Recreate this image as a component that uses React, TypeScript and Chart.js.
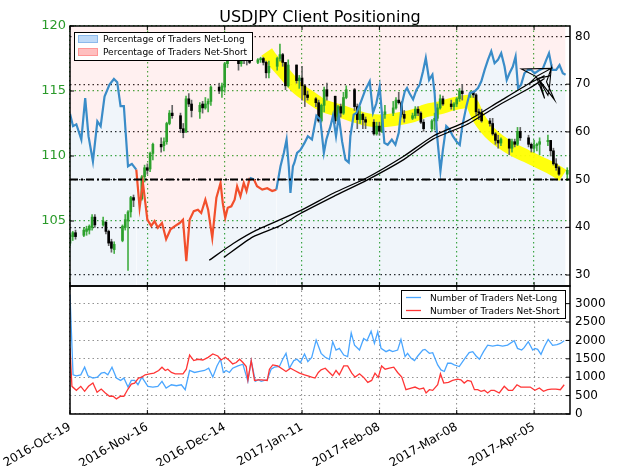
import React, { useEffect, useRef } from "react";
import { Chart, registerables } from "chart.js";

Chart.register(...registerables);

const FONT = "'DejaVu Sans', 'Liberation Sans', sans-serif";
const TITLE = "USDJPY Client Positioning";
const X_MAX = 181;

const tickDays = [0, 28, 56, 84, 112, 140, 168];
const tickLabels = ["2016-Oct-19", "2016-Nov-16", "2016-Dec-14", "2017-Jan-11", "2017-Feb-08", "2017-Mar-08", "2017-Apr-05"];
const priceTicks = [105, 110, 115, 120];
const pctTicks = [30, 40, 50, 60, 70, 80];
const countTicks = [0, 500, 1000, 1500, 2000, 2500, 3000];

const candleDays = [0,1,2,5,6,7,8,9,12,13,14,15,16,19,20,21,22,23,26,27,28,29,30,33,34,35,36,37,40,41,42,43,44,47,48,49,50,51,54,55,56,57,58,61,62,63,64,65,68,69,70,71,72,75,76,77,78,79,82,83,84,85,86,89,90,91,92,93,96,97,98,99,100,103,104,105,106,107,110,111,112,113,114,117,118,119,120,121,124,125,126,127,128,131,132,133,134,135,138,139,140,141,142,145,146,147,148,149,152,153,154,155,156,159,160,161,162,163,166,167,168,169,170,173,174,175,176,177,180];
const candleOpen = [103.3,103.8,104.1, 103.9,104.2,104.3,104.5,105.3, 104.7,104.9,104.2,103.4,102.8, 103.5,104.5,105.0,105.7,106.8, 106.7,108.4,109.1,109.0,110.2, 110.9,110.8,111.1,112.5,113.3, 113.1,112.1,111.9,114.4,114.0, 113.4,114.0,113.7,114.0,114.2, 115.3,115.0,115.3,117.1,118.1, 117.9,117.1,117.9,117.6,117.4, 117.2,117.4,117.5,117.2,116.4, 116.9,117.5,117.8,117.2,115.4, 117.0,115.8,116.0,115.4,114.7, 114.4,114.1,112.7,113.9,115.1, 114.6,112.7,113.8,113.3,114.5, 115.1,113.8,112.8,113.2,112.8, 112.6,111.7,112.3,111.9,113.2, 113.3,113.7,114.3,114.1,113.2, 112.9,113.1,113.6,113.3,112.6, 112.1,112.7,112.9,113.7,114.4, 114.0,113.8,114.0,114.4,115.0, 114.8,114.9,114.7,113.4,113.3, 112.7,112.5,111.7,111.2,111.0, 111.3,110.6,111.1,110.9,111.9, 111.4,110.9,110.6,110.8,110.9, 111.1,111.2,110.4,109.4,109.1, 108.6];
const candleHigh = [104.0,104.2,104.3, 104.5,104.6,104.7,105.5,105.5, 105.3,105.0,104.3,103.6,103.4, 104.7,105.5,105.8,106.9,107.0, 108.5,109.3,109.4,110.3,111.0, 111.4,111.4,112.6,113.5,113.9, 113.3,112.5,114.6,114.8,114.3, 114.1,114.2,114.5,114.4,115.4, 115.6,115.6,117.2,118.7,118.5, 118.0,118.0,118.0,117.8,117.6, 117.5,117.6,117.6,117.3,117.3, 117.6,118.6,117.9,117.2,117.4, 117.0,116.2,116.9,115.5,115.0, 114.5,114.3,114.0,115.3,115.6, 114.6,113.9,114.0,114.9,115.4, 115.2,114.0,113.8,113.3,113.0, 112.8,112.6,112.6,113.3,113.9, 114.2,114.5,114.9,114.2,113.5, 113.3,113.8,113.8,113.4,112.8, 112.8,113.3,114.0,114.7,114.6, 114.3,114.1,114.5,115.2,115.5, 115.0,115.0,114.8,113.6,113.6, 112.9,112.9,111.8,111.6,111.4, 111.3,111.3,111.3,112.2,112.2, 111.6,111.0,111.2,111.0,111.4, 111.6,111.2,110.6,109.8,109.2, 109.1];
const candleLow = [103.1,103.5,103.6, 103.8,103.9,104.0,104.3,104.5, 104.6,104.0,103.1,102.6,102.5, 103.4,104.3,101.2,105.3,106.1, 106.6,108.0,108.6,108.8,109.7, 110.3,110.4,110.9,112.4,112.9, 111.8,111.4,111.8,113.8,113.0, 112.9,113.3,113.6,113.4,113.9, 114.8,114.5,114.9,116.8,117.5, 116.6,116.9,117.1,117.0,117.1, 117.1,117.2,117.0,116.0,116.0, 116.6,117.3,116.9,115.1,115.3, 115.6,115.2,114.3,113.8,114.3, 113.8,112.6,112.6,113.4,114.3, 112.5,112.6,113.0,113.2,114.4, 113.5,112.1,112.5,112.1,112.1, 111.6,111.6,111.6,111.8,112.9, 113.1,113.6,114.0,113.0,112.6, 112.8,112.9,113.1,112.5,111.9, 111.9,112.0,112.7,113.6,113.9, 113.6,113.5,113.8,114.2,114.3, 114.5,114.5,113.2,112.8,112.6, 112.3,111.6,110.9,110.6,110.8, 110.1,110.3,110.7,110.8,111.2, 110.7,110.3,110.3,110.4,110.1, 110.8,110.0,109.3,108.9,108.5, 108.1];
const candleClose = [103.9,104.1,103.8, 104.3,104.4,104.6,105.3,104.7, 105.0,104.2,103.3,102.9,103.2, 104.6,105.1,105.7,106.8,106.6, 108.4,109.1,108.9,110.2,110.9, 110.7,111.1,112.5,113.3,113.1, 112.1,111.8,114.4,114.0,113.5, 113.9,113.7,114.0,114.2,115.3, 115.0,115.4,117.1,118.1,117.9, 117.1,117.9,117.6,117.4,117.2, 117.4,117.5,117.2,116.4,116.9, 117.5,117.8,117.2,115.4,117.0, 115.8,116.0,115.4,114.7,114.5, 114.1,112.7,113.9,115.1,114.6, 112.7,113.8,113.3,114.5,115.1, 113.8,112.8,113.2,112.8,112.6, 111.7,112.3,111.9,113.2,113.4, 113.7,114.3,114.1,113.2,112.9, 113.1,113.6,113.3,112.6,112.1, 112.7,112.9,113.7,114.4,114.0, 113.8,114.0,114.4,115.0,114.8, 114.9,114.7,113.4,113.3,112.7, 112.5,111.7,111.2,111.0,111.3, 110.6,111.1,110.9,111.9,111.4, 110.9,110.6,110.8,110.9,111.1, 111.2,110.4,109.4,109.1,108.6, 108.9];

const pctDays = [0,1.1,2.3,4.1,5.5,6.7,8.3,9.9,11.1,12.5,14.3,15.9,17.1,18.3,19.5,21,22.4,24,25.2,26.4,28,29.4,30.6,31.8,33.3,34.8,36.4,38.1,39.7,40.9,42.1,43.3,44.8,46.3,47.5,49,50,51.5,53,54.5,55.3,56.2,57.1,58.4,59.6,60.5,61.7,62.9,63.9,65.1,66.6,67.7,69.6,71.4,73.2,74.7,76.2,77.4,78.4,79.2,79.8,80.7,81.2,82.2,83.4,84.9,86.1,87.6,89.2,90.6,91.9,92.8,94.3,95.2,96.3,97.3,98.5,99.7,100.9,101.5,102.7,103.7,105.1,106.9,108.5,109.7,110.9,112.1,112.9,113.8,115,116.5,117.8,119,120.2,121.2,122,122.9,124.2,125.4,126.6,127.8,128.8,130,131.2,132,132.9,134.1,135,136.2,137.4,138.6,139.9,141.1,142,143.5,144.7,146.5,147.7,148.9,150.1,151.3,152.5,153.7,154.9,156.1,157.3,158.1,159.1,160.3,161.3,162.2,163.3,164.5,165.8,167,168.2,170,171.2,172.4,173.4,174.6,176,177.2,178.4,179.4];
const pctValues = [63.8,61.2,61.6,58.4,67.1,59.1,53.8,62.2,61.2,67.4,69.9,71.1,70.4,65.4,65.4,52.8,53.3,52.1,44.1,49.3,41.6,40.3,41.3,39.9,40.9,37.5,39.6,40.3,40.9,41.6,32.9,41.6,43.4,43.7,43,45.8,43.7,37.8,46.2,49.3,45.1,42,44.1,44.4,45.8,48.6,46.5,49.3,47.6,50.4,50,48.6,47.9,48.2,47.6,47.9,52.8,55.6,58.4,52.8,47.2,52.8,53.5,55.6,56.2,57.7,59.1,58.4,63.4,62.6,55.6,58.4,61.2,63.4,59.1,63.3,58,54.2,53.6,59.1,63.6,64,66,68.8,70.6,64,66,69.5,64,57.7,57.3,58.4,57.3,59.8,66,68.5,69.2,68.1,66.8,68.8,69.9,72.7,75.5,70.9,72,68.1,59.1,51.8,56.3,61.2,60.5,59.1,58,57.3,61.2,65.4,68.1,68.5,69.2,70.6,73,75.1,76.9,74.4,75.1,76.5,73.7,70.9,72.3,73.7,75.8,69.2,69.9,72.3,73,73,72.3,73,73.3,75.1,76.5,73,73,74,72.3,72];

const longDays = [0,1.1,2.3,3.9,5.3,6.5,8.3,9.9,11.3,12.5,13.7,15.2,16.8,18.3,19.5,21,22.2,23.4,24.6,26,28.2,30,31.8,33.3,34.8,36.7,38.5,40.3,41.7,43.3,45.1,46.9,48.7,50.2,51.7,53.2,54.5,55.5,56.5,57.7,58.9,60.8,62.6,64.4,65.6,67.1,68.2,69.2,70.4,71.4,72.8,74,75.8,77,78.2,79.4,81,82.2,83.4,84.9,86.1,87.5,89.1,90.9,92.4,93.9,95.1,96.3,97.5,99.1,100.5,101.8,103,104.8,106.3,107.5,109,110.2,111.4,112.6,114.4,115.6,116.8,118.6,119.8,121.3,122.2,123.5,124.7,125.9,127.7,128.5,130.1,131.3,133.1,134.3,135.5,136.7,137.9,139.1,140.9,142.7,144.5,145.8,147,148.2,149.7,151.2,153,154.8,156.6,158.4,160.8,162,163.5,164.4,165.9,167.5,168.3,169.3,170.5,171.7,173.1,174.7,176.3,177.5,178.9];
const longValues = [3250,1065,1038,1065,1272,1038,976,1003,1110,1129,1065,1272,976,913,976,733,913,913,795,1003,752,733,752,887,706,795,768,795,660,1183,1129,1156,1183,1245,1003,1307,1488,1129,1183,1129,1245,1307,1353,887,1452,887,930,887,913,930,1218,1272,1291,1488,1649,1245,1452,1488,1399,1631,1425,1541,2008,1649,1541,1488,1965,1738,1784,1604,1560,2207,1873,1738,2054,1991,2250,1919,2234,1784,1695,1738,1695,1738,2027,1560,1649,1515,1452,1577,1738,1757,1649,1668,1334,1199,1156,1380,1380,1334,1291,1488,1668,1695,1577,1488,1695,1873,1846,1873,1846,1873,1991,1784,1738,1803,1965,1738,1784,1757,1622,1830,2027,1865,1884,1919,1991];
const shortDays = [0,0.7,2.3,3.9,5.3,6.7,8.3,9.8,11.3,12.8,14.3,15.6,16.8,18.3,19.5,21,22.2,23.4,24.8,26,27.2,28.8,30.4,32.1,33.3,34.5,35.4,36.7,38.1,39.7,40.9,42.1,43.3,44.8,46.3,48.1,50,51.7,53.5,54.7,56.2,57.7,58.9,60.2,61.4,62.6,63.8,64.4,65.6,66.8,68.2,69.4,71.4,72.2,73.4,75.2,77,78.2,79.8,81.3,83.1,84.9,86.1,87.5,88.7,89.9,90.9,92.4,93.9,95.1,96.3,97.5,99.1,100.5,102,103.2,104.8,106.3,107.8,109.2,110.4,111.6,112.8,114.1,115.6,117.2,118.6,120.1,121.6,123.5,124.9,126.5,128,128.9,130.1,131.3,133.1,134.1,135.3,137,138.5,140.3,141.5,142.7,143.9,145.2,146.4,147.6,148.8,150,151.2,152.4,153.6,155.4,157.2,158.7,160.2,161.8,163.2,165,166.6,168.3,169.9,171.4,172.9,174.3,175.9,177.5,178.9];
const shortValues = [1800,752,644,752,617,752,841,590,679,571,482,482,410,482,482,679,814,841,976,1003,1065,1092,1110,1183,1272,1183,1218,1129,1092,1092,1092,1218,1604,1452,1488,1469,1541,1631,1577,1469,1541,1452,1361,1399,1488,1399,1291,930,1452,913,930,930,913,1218,1334,1307,1218,1156,1245,1183,1110,1065,1038,1003,976,1129,1199,1245,1129,1038,1183,1065,1307,1307,1110,1003,1092,994,860,913,1110,994,1307,1218,1245,1272,1129,1003,660,706,733,679,706,571,660,644,795,1092,841,860,913,949,930,841,913,887,660,660,617,644,571,644,644,571,752,644,644,795,733,733,733,644,706,617,660,679,679,660,795];

const highlightDays = [71.2,72.6,77.4,82.2,87.1,91.9,97.9,102.7,107.5,112.4,117.2,124.2,129,133.8,138.6,143.5,145.3,147.1,148.9,151.9,155.5,160.3,165.2,170,174.8,178.4];
const highlightPrices = [118.0,117.56,116.4,115.25,114.5,113.85,113.46,113.1,112.8,112.7,112.8,113.1,113.5,113.7,114.0,114.2,114.1,113.3,112.6,111.8,111.15,110.5,110.0,109.5,109.0,108.5];

const trendADays = [50.4,59.1,67.5,83.4,95.5,107.5,120.8,131.4,143.5,155.5,166.4,171.8];
const trendAValues = [33.1,36.6,39.4,43.5,47.2,50.4,54.9,59.1,62.2,66.4,70.2,71.8];
const trendBDays = [55.7,66.2,75.9,83.4,95.5,107.5,120.8,131.4,143.5,155.5,166.4,171.8];
const trendBValues = [33.7,38.0,40.3,42.9,46.5,49.9,54.2,58.5,61.5,65.7,69.2,71.2];
const scribbleDays = [166.4,168.8,163.4,174.2,168.8,171.8,170,175.4,172.5,174.2,173.5,173,169.5,174];
const scribbleValues = [70.2,71.6,73.2,73.3,71.6,67.0,70.8,66.7,70.5,73.3,69,67.7,71.2,71.8];
const neutralLevel = 50;

const BLUE = "#3a8cc8";
const RED = "#f24f2c";
const CANDLE_UP = "#2ca02c";
const CANDLE_DOWN = "#000000";
const GRID_GREEN = "rgba(40,160,40,0.9)";
const GRID_BLACK = "rgba(0,0,0,0.85)";
const GRID_GRAY = "rgba(120,120,120,0.8)";

const pts = (xs: number[], ys: number[]) => xs.map((x, i) => ({ x, y: ys[i] }));

function line(ctx: CanvasRenderingContext2D, x1: number, y1: number, x2: number, y2: number) {
  ctx.beginPath();
  ctx.moveTo(x1, y1);
  ctx.lineTo(x2, y2);
  ctx.stroke();
}

const topDecor = {
  id: "topDecor",
  afterDraw(chart: any) {
    const { ctx, chartArea: a, scales } = chart;
    ctx.save();
    ctx.strokeStyle = "#000";
    ctx.lineWidth = 1;
    priceTicks.forEach((v) => {
      const y = scales.price.getPixelForValue(v);
      line(ctx, a.left, y, a.left + 4, y);
    });
    pctTicks.forEach((v) => {
      const y = scales.pct.getPixelForValue(v);
      line(ctx, a.right - 4, y, a.right, y);
    });
    tickDays.forEach((d) => {
      const x = scales.x.getPixelForValue(d);
      line(ctx, x, a.top, x, a.top + 4);
      line(ctx, x, a.bottom - 4, x, a.bottom);
    });
    ctx.lineWidth = 1.5;
    ctx.strokeRect(a.left, a.top, a.right - a.left, a.bottom - a.top);

    ctx.fillStyle = "#000";
    ctx.font = `16px ${FONT}`;
    ctx.textAlign = "center";
    ctx.textBaseline = "alphabetic";
    ctx.fillText(TITLE, (a.left + a.right) / 2, 21.5);

    const lx = a.left + 4, ly = a.top + 6, lw = 178, lh = 28;
    ctx.fillStyle = "#fff";
    ctx.fillRect(lx, ly, lw, lh);
    ctx.lineWidth = 1;
    ctx.strokeStyle = "#000";
    ctx.strokeRect(lx + 0.5, ly + 0.5, lw, lh);
    ctx.fillStyle = "rgba(170,205,245,0.75)";
    ctx.fillRect(lx + 4, ly + 3, 19, 7);
    ctx.strokeStyle = "rgba(140,185,235,1)";
    ctx.strokeRect(lx + 4.5, ly + 3.5, 19, 7);
    ctx.fillStyle = "rgba(255,170,170,0.75)";
    ctx.fillRect(lx + 4, ly + 16, 19, 7);
    ctx.strokeStyle = "rgba(255,150,150,1)";
    ctx.strokeRect(lx + 4.5, ly + 16.5, 19, 7);
    ctx.fillStyle = "#000";
    ctx.font = `9px ${FONT}`;
    ctx.textAlign = "left";
    ctx.fillText("Percentage of Traders Net-Long", lx + 29, ly + 9.5);
    ctx.fillText("Percentage of Traders Net-Short", lx + 29, ly + 23);
    ctx.restore();
  },
};

const bottomDecor = {
  id: "bottomDecor",
  afterDraw(chart: any) {
    const { ctx, chartArea: a, scales } = chart;
    ctx.save();
    ctx.strokeStyle = "#000";
    ctx.lineWidth = 1;
    countTicks.forEach((v) => {
      const y = scales.count.getPixelForValue(v);
      line(ctx, a.right - 4, y, a.right, y);
    });
    tickDays.forEach((d) => {
      const x = scales.x.getPixelForValue(d);
      line(ctx, x, a.top, x, a.top + 4);
      line(ctx, x, a.bottom - 4, x, a.bottom);
    });
    ctx.lineWidth = 1.5;
    ctx.strokeRect(a.left, a.top, a.right - a.left, a.bottom - a.top);

    const lw = 164, lh = 28;
    const lx = a.right - 5 - lw, ly = a.top + 4;
    ctx.fillStyle = "#fff";
    ctx.fillRect(lx, ly, lw, lh);
    ctx.lineWidth = 1;
    ctx.strokeStyle = "#000";
    ctx.strokeRect(lx + 0.5, ly + 0.5, lw, lh);
    ctx.lineWidth = 1.3;
    ctx.strokeStyle = "#4aa6ff";
    line(ctx, lx + 5, ly + 7.5, lx + 20, ly + 7.5);
    ctx.strokeStyle = "#ff3535";
    line(ctx, lx + 5, ly + 20.5, lx + 20, ly + 20.5);
    ctx.fillStyle = "#000";
    ctx.font = `9px ${FONT}`;
    ctx.textAlign = "left";
    ctx.textBaseline = "alphabetic";
    ctx.fillText("Number of Traders Net-Long", lx + 29, ly + 10.5);
    ctx.fillText("Number of Traders Net-Short", lx + 29, ly + 23.5);
    ctx.restore();
  },
};

export default function App() {
  const topRef = useRef<HTMLCanvasElement | null>(null);
  const botRef = useRef<HTMLCanvasElement | null>(null);

  useEffect(() => {
    Chart.defaults.font.family = FONT;
    const up = candleDays.map((_, i) => candleClose[i] >= candleOpen[i]);
    const bodies = candleDays.map((d, i) => ({ x: d, y: [candleOpen[i], candleClose[i]] }));
    const wicks = candleDays.map((d, i) => ({ x: d, y: [candleLow[i], candleHigh[i]] }));
    const pctData = pts(pctDays, pctValues);

    const top = new Chart(topRef.current as HTMLCanvasElement, {
      type: "line",
      data: {
        datasets: [
          {
            type: "line",
            data: pctData,
            yAxisID: "pct",
            borderWidth: 0,
            pointRadius: 0,
            fill: "end",
            backgroundColor: "rgba(255,90,90,0.09)",
            order: 100,
          } as any,
          {
            type: "line",
            data: pts(highlightDays, highlightPrices),
            yAxisID: "price",
            borderColor: "rgba(255,255,0,0.95)",
            borderWidth: 13,
            borderCapStyle: "butt",
            pointRadius: 0,
            tension: 0.35,
            fill: false,
            order: 60,
          } as any,
          {
            type: "bar",
            data: wicks,
            yAxisID: "price",
            backgroundColor: up.map((u) => (u ? "#47b047" : "#666666")),
            barThickness: 1,
            grouped: false,
            borderWidth: 0,
            order: 50,
          } as any,
          {
            type: "bar",
            data: bodies,
            yAxisID: "price",
            backgroundColor: up.map((u) => (u ? CANDLE_UP : CANDLE_DOWN)),
            barThickness: 2,
            grouped: false,
            borderWidth: 0,
            order: 40,
          } as any,
          {
            type: "line",
            data: pctData,
            yAxisID: "pct",
            borderColor: BLUE,
            borderWidth: 2.2,
            pointRadius: 0,
            fill: "start",
            backgroundColor: "rgba(40,120,190,0.07)",
            segment: {
              borderColor: (c: any) => ((c.p0.parsed.y + c.p1.parsed.y) / 2 < neutralLevel ? RED : BLUE),
            },
            order: 30,
          } as any,
          {
            type: "line",
            data: pts(trendADays, trendAValues),
            yAxisID: "pct",
            borderColor: "#000",
            borderWidth: 1.3,
            pointRadius: 0,
            tension: 0.2,
            fill: false,
            order: 20,
          } as any,
          {
            type: "line",
            data: pts(trendBDays, trendBValues),
            yAxisID: "pct",
            borderColor: "#000",
            borderWidth: 1.3,
            pointRadius: 0,
            tension: 0.2,
            fill: false,
            order: 20,
          } as any,
          {
            type: "line",
            data: pts(scribbleDays, scribbleValues),
            yAxisID: "pct",
            borderColor: "#000",
            borderWidth: 1.1,
            pointRadius: 0,
            fill: false,
            order: 20,
          } as any,
          {
            type: "line",
            data: [
              { x: 0, y: neutralLevel },
              { x: X_MAX, y: neutralLevel },
            ],
            yAxisID: "pct",
            borderColor: "#000",
            borderWidth: 2,
            borderDash: [8, 3, 2, 3],
            pointRadius: 0,
            fill: false,
            order: 10,
          } as any,
        ],
      },
      options: {
        responsive: false,
        animation: false,
        events: [],
        layout: { padding: { left: 8, right: 0, top: 26, bottom: 4 } },
        plugins: {
          legend: { display: false },
          tooltip: { enabled: false },
          title: { display: false },
          filler: { drawTime: "beforeDatasetsDraw" },
        } as any,
        scales: {
          x: {
            type: "linear",
            min: 0,
            max: X_MAX,
            offset: false,
            afterBuildTicks: (s: any) => {
              s.ticks = tickDays.map((v) => ({ value: v }));
            },
            ticks: { display: false },
            grid: { color: GRID_GREEN, lineWidth: 1.2, drawTicks: false, offset: false },
            border: { display: false, dash: [1.5, 3] },
            afterFit: (s: any) => {
              s.height = 0;
              s.paddingLeft = 0;
              s.paddingRight = 0;
            },
          },
          price: {
            type: "linear",
            position: "left",
            min: 100,
            max: 120,
            afterBuildTicks: (s: any) => {
              s.ticks = priceTicks.map((v) => ({ value: v }));
            },
            ticks: { color: "#2a9a2a", font: { size: 13, family: FONT }, padding: 4, callback: (v: any) => String(v) },
            grid: { color: GRID_GREEN, lineWidth: 1.2, drawTicks: false },
            border: { display: false, dash: [1.5, 3] },
            afterFit: (s: any) => {
              s.width = 62;
              s.paddingTop = 0;
              s.paddingBottom = 0;
            },
          },
          pct: {
            type: "linear",
            position: "right",
            min: 27.7,
            max: 82.2,
            afterBuildTicks: (s: any) => {
              s.ticks = pctTicks.map((v) => ({ value: v }));
            },
            ticks: { color: "#000", font: { size: 12, family: FONT }, padding: 5, callback: (v: any) => String(v) },
            grid: { color: GRID_BLACK, lineWidth: 1.2, drawTicks: false },
            border: { display: false, dash: [1.5, 3] },
            afterFit: (s: any) => {
              s.width = 54;
              s.paddingTop = 0;
              s.paddingBottom = 0;
            },
          },
        } as any,
      },
      plugins: [topDecor],
    });

    const bottom = new Chart(botRef.current as HTMLCanvasElement, {
      type: "line",
      data: {
        datasets: [
          {
            data: pts(shortDays, shortValues),
            yAxisID: "count",
            borderColor: "#ff3535",
            borderWidth: 1.3,
            pointRadius: 0,
            fill: false,
          },
          {
            data: pts(longDays, longValues),
            yAxisID: "count",
            borderColor: "#4aa6ff",
            borderWidth: 1.3,
            pointRadius: 0,
            fill: false,
          },
        ],
      },
      options: {
        responsive: false,
        animation: false,
        events: [],
        layout: { padding: { left: 70, right: 0, top: 6, bottom: 0 } },
        plugins: {
          legend: { display: false },
          tooltip: { enabled: false },
          title: { display: false },
        },
        scales: {
          x: {
            type: "linear",
            min: 0,
            max: X_MAX,
            afterBuildTicks: (s: any) => {
              s.ticks = tickDays.map((v) => ({ value: v }));
            },
            ticks: {
              callback: (v: any) => {
                const i = tickDays.indexOf(Number(v));
                return i >= 0 ? tickLabels[i] : "";
              },
              minRotation: 30,
              maxRotation: 30,
              autoSkip: false,
              color: "#000",
              font: { size: 12, family: FONT },
              padding: 6,
            },
            grid: { color: GRID_GRAY, lineWidth: 1.1, drawTicks: false },
            border: { display: false, dash: [1.5, 3] },
            afterFit: (s: any) => {
              s.height = 52;
              s.paddingLeft = 0;
              s.paddingRight = 0;
            },
          },
          count: {
            type: "linear",
            position: "right",
            min: 0,
            max: 3480,
            afterBuildTicks: (s: any) => {
              s.ticks = countTicks.map((v) => ({ value: v }));
            },
            ticks: { color: "#000", font: { size: 12, family: FONT }, padding: 5, callback: (v: any) => String(v) },
            grid: { color: GRID_GRAY, lineWidth: 1.1, drawTicks: false },
            border: { display: false, dash: [1.5, 3] },
            afterFit: (s: any) => {
              s.width = 54;
              s.paddingTop = 0;
              s.paddingBottom = 0;
            },
          },
        } as any,
      },
      plugins: [bottomDecor],
    });

    return () => {
      top.destroy();
      bottom.destroy();
    };
  }, []);

  return (
    <div style={{ position: "absolute", left: 0, top: 0, width: 624, height: 466, background: "#fff" }}>
      <canvas ref={topRef} width={624} height={290} style={{ position: "absolute", left: 0, top: 0, width: 624, height: 290 }} />
      <canvas ref={botRef} width={624} height={186} style={{ position: "absolute", left: 0, top: 280, width: 624, height: 186 }} />
    </div>
  );
}
